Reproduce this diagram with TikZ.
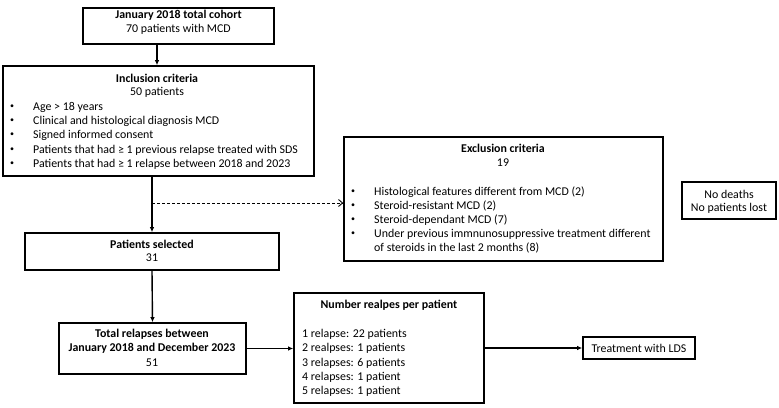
\documentclass[tikz,border=0pt]{standalone}
\usepackage{fontspec}
\setmainfont{Carlito}
\usetikzlibrary{arrows.meta}
\begin{document}
\begin{tikzpicture}[x=1pt,y=-1pt,
  box/.style={draw, line width=1.6pt, inner sep=0pt},
  txt/.style={inner sep=0pt, font=\fontsize{11.9}{14}\selectfont},
  btxt/.style={txt, font=\fontsize{11.9}{14}\selectfont\bfseries},
  bul/.style={inner sep=0pt, font=\fontsize{8}{10}\selectfont},
  arr/.style={line width=1.4pt, -{Latex[length=5pt,width=4.5pt]}},
  darr/.style={line width=0.9pt, dashed, dash pattern=on 3pt off 2pt, -{Straight Barb[length=4pt,width=7pt]}}]
\useasboundingbox (0,0) rectangle (779,407);
% boxes
\node[box, minimum width=191pt, minimum height=36pt] (b1) at (178.5,26) {};
\node[box, minimum width=311pt, minimum height=110pt] (b2) at (158.5,121) {};
\node[box, minimum width=254pt, minimum height=37pt] (b3) at (152,251.5) {};
\node[box, minimum width=187pt, minimum height=51pt] (b4) at (152.5,348.5) {};
\node[box, minimum width=319pt, minimum height=124pt] (ex) at (503.5,199) {};
\node[box, minimum width=94pt, minimum height=37pt] (nd) at (729,200.5) {};
\node[box, minimum width=190pt, minimum height=110pt] (nr) at (389,348) {};
\node[box, minimum width=112pt, minimum height=22pt] (tr) at (639,348) {};
% box 1 text
\node[btxt] (t1a) at (178.5,15) {January 2018 total cohort};
\node[txt] (t1b) at (178.5,29) {70 patients with MCD};
% inclusion
\node[btxt] (t2a) at (157,78) {Inclusion criteria};
\node[txt] (t2b) at (157,92) {50 patients};
\foreach \y/\t [count=\i] in {107/{Age > 18 years},121/{Clinical and histological diagnosis MCD},135/{Signed informed consent},150/{Patients that had ≥ 1 previous relapse treated with SDS},164/{Patients that had ≥ 1 relapse between 2018 and 2023}}{
  \node[bul] (ib\i) at (12,\y) {•};
  \node[txt, anchor=west] (it\i) at (33,\y) {\t};
}
% patients selected
\node[btxt] (t3a) at (152,244) {Patients selected};
\node[txt] (t3b) at (152,258) {31};
% total relapses
\node[btxt] (t4a) at (152,334) {Total relapses between};
\node[btxt] (t4b) at (152,348) {January 2018 and December 2023};
\node[txt] (t4c) at (152,363) {51};
% exclusion
\node[btxt] (t5a) at (503,148) {Exclusion criteria};
\node[txt] (t5b) at (503,163) {19};
\foreach \y/\t [count=\i] in {192/{Histological features different from MCD (2)},206/{Steroid-resistant MCD (2)},220/{Steroid-dependant MCD (7)},234/{Under previous immnunosuppressive treatment different}}{
  \node[bul] (eb\i) at (353,\y) {•};
  \node[txt, anchor=west] (et\i) at (374,\y) {\t};
}
\node[txt, anchor=west] (et5) at (374,248) {of steroids in the last 2 months (8)};
% no deaths
\node[txt] (t6a) at (729,194) {No deaths};
\node[txt] (t6b) at (729,208) {No patients lost};
% number relapses
\node[btxt] (t7a) at (389,305) {Number realpes per patient};
\foreach \y/\t [count=\i] in {334/{1 relapse: 22 patients},348/{2 realpses: 1 patients},363/{3 relapses: 6 patients},377/{4 relapses: 1 patient},391/{5 relapses: 1 patient}}{
  \node[txt, anchor=west] (nl\i) at (302,\y) {\t};
}
% treatment
\node[txt] (t8) at (639,348) {Treatment with LDS};
% connectors
\draw[arr] (b1.south -| 157,0) -- (b2.north -| 157,0);
\draw[arr] (b2.south -| 152,0) -- (b3.north -| 152,0);
\coordinate (dj) at (152,203);
\draw[darr] (dj) -- (dj -| ex.west);
\draw[arr] (b3.south) -- (b4.north);
\draw[arr] (b4.east) -- (b4.east -| nr.west);
\draw[arr] (nr.east) -- (tr.west);
\end{tikzpicture}
\end{document}
